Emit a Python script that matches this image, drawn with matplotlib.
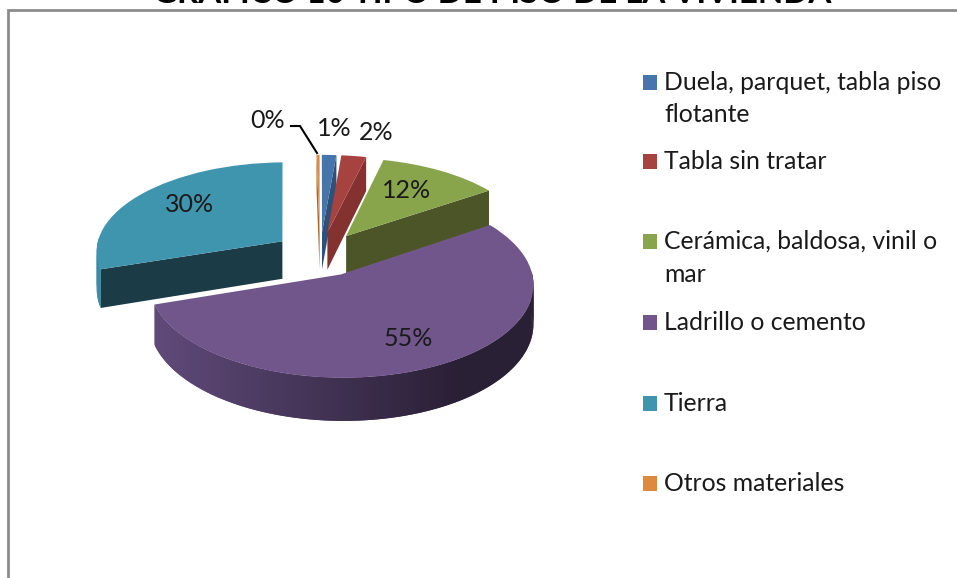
import numpy as np
import matplotlib
matplotlib.use('Agg')
import matplotlib.pyplot as plt
from matplotlib.transforms import Transform

plt.rcParams['font.family'] = ['Lato', 'DejaVu Sans']

# Data
labels = ['Duela, parquet, tabla piso\nflotante', 'Tabla sin tratar',
          'Cerámica, baldosa, vinil o\nmar', 'Ladrillo o cemento', 'Tierra',
          'Otros materiales']
values = [1.4, 2.4, 11.8, 54.6, 29.9, 0.3]
title = 'GRAFICO 10 TIPO DE PISO DE LA VIVIENDA'

colors = ['#4675ad', '#a64341', '#89a54b', '#71568c', '#4095ae', '#dd8a3f']
cut_colors = ['#2f5078', '#843230', '#4b5527', '#3f3050', '#1b3b47', '#a5662c']
wall_colors = ['#385f8c', '#7d302e', '#56642b', '#71568c', '#3a8aa3', '#b06d30']

# positions of the labels, pixels
pct_pos = [(334, 128), (376, 133), (407, 190), (408, 338), (190, 204), (268, 120)]
legend_y = [82, 161, 241, 322, 403, 483]

# the fake 3d look
cx, cy = 320, 254
B, A, k = 187, 89, 0.0975
depth = 38
explode = 0.25


def project(x, y, z=0.0):
    x, y = np.asarray(x, float), np.asarray(y, float)
    s = 1 + k * y
    return cx + B * x / s, cy - A * y / s + z * depth / s


class Perspective(Transform):
    input_dims = 2
    output_dims = 2

    def transform_non_affine(self, values):
        values = np.asarray(values)
        px, py = project(values[:, 0], values[:, 1])
        return np.column_stack([px, py])


fig = plt.figure(figsize=(9.57, 5.78), dpi=100)
ax = fig.add_axes([0, 0, 1, 1])
wedges, _ = ax.pie(values, explode=[explode] * len(values), startangle=90,
                   counterclock=False, colors=colors, wedgeprops={'linewidth': 0})
ax.set_aspect('auto')
ax.set_xlim(0, 957)
ax.set_ylim(578, 0)
ax.axis('off')

# frame of the chart, cut by the picture on the right and the bottom
ax.plot([8, 8, 957], [578, 10, 10], color='#8c8c8c', lw=2, solid_joinstyle='miter')

order = [4, 5, 0, 1, 2, 3]  # back to front
tr = Perspective() + ax.transData


def wall_color(i, xpos):
    if i == 3:  # dark to the right
        t = np.clip((xpos - 153) / 300, 0, 1)
        c0 = np.array(matplotlib.colors.to_rgb('#604a7a'))
        c1 = np.array(matplotlib.colors.to_rgb('#2a2036'))
        return tuple(c0 + (c1 - c0) * t)
    return wall_colors[i]


for z, i in enumerate(order):
    w = wedges[i]
    ox, oy = w.center
    t1, t2 = np.radians(w.theta1), np.radians(w.theta2)
    base = 3 * z + 2

    # the cut faces, only those turned to the viewer
    for t, facing in ((t1, np.cos(t1) > 0), (t2, np.cos(t2) < 0)):
        if not facing:
            continue
        px, py = [ox, ox + np.cos(t)], [oy, oy + np.sin(t)]
        xt, yt = project(px, py, 0)
        xb, yb = project(px, py, 1)
        ax.fill([xt[0], xt[1], xb[1], xb[0]], [yt[0], yt[1], yb[1], yb[0]],
                color=cut_colors[i], lw=0, zorder=base)

    # outer wall in small strips, front half only; each overlaps the next
    ang = np.linspace(t1, t2, max(int(np.degrees(t2 - t1)), 2) + 1)
    ang = ang[np.sin(ang) < 0.05]
    if len(ang) > 1:
        xa, ya = ox + np.cos(ang), oy + np.sin(ang)
        xt, yt = project(xa, ya, 0)
        xb, yb = project(xa, ya, 1)
        for j in range(len(ang) - 1):
            e = min(j + 2, len(ang) - 1)
            ax.fill([xt[j], xt[e], xb[e], xb[j]], [yt[j], yt[e], yb[e], yb[j]],
                    color=wall_color(i, xt[j]), lw=0, zorder=base + 1)

    w.set_transform(tr)
    w.set_zorder(base + 2)

# percent labels
for v, (x, y) in zip(values, pct_pos):
    ax.text(x, y, f'{v:.0f}%', fontsize=18, color='#1a1a1a', ha='center', va='center', zorder=50)
ax.plot([291, 300, 317], [126, 126, 153], color='black', lw=1.5, zorder=50)

# legend
for lab, col, y in zip(labels, colors, legend_y):
    ax.fill([643, 657, 657, 643], [y - 7.5, y - 7.5, y + 7.5, y + 7.5], color=col, lw=0)
    ax.text(664, y - 11, lab, fontsize=17.8, color='#1a1a1a', ha='left', va='top', linespacing=1.5)

# title, only its lower part is left in the picture
ax.text(492, 3, title, fontsize=23.9, fontweight='bold', color='black', ha='center', va='baseline')

fig.savefig('out.png', dpi=100)
